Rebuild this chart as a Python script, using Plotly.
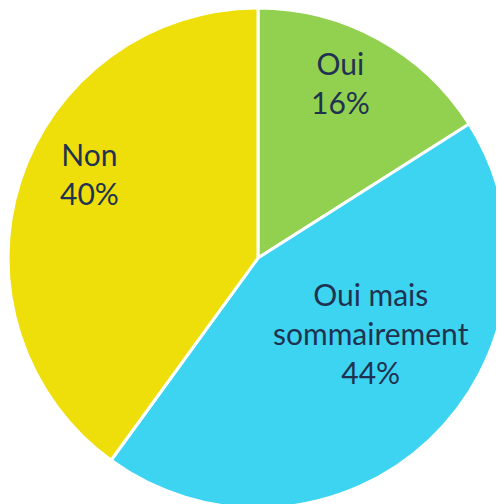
import plotly.graph_objects as go

labels = ["Oui", "Oui mais<br>sommairement", "Non"]
values = [16, 44, 40]
colors = ["#92D050", "#3DD4F2", "#EEDF0A"]

# label anchor positions (paper coordinates), one per slice
label_pos = [(0.659, 0.853), (0.720, 0.355), (0.161, 0.672)]

total = sum(values)

fig = go.Figure(go.Pie(
    labels=labels,
    values=values,
    sort=False,
    direction="clockwise",
    rotation=0,
    marker=dict(colors=colors, line=dict(color="white", width=3)),
    textinfo="none",
    showlegend=False,
    hoverinfo="skip",
    domain=dict(x=[0, 500/504], y=[4/504, 1]),
))

for lab, val, (px, py) in zip(labels, values, label_pos):
    fig.add_annotation(
        x=px, y=py, xref="paper", yref="paper",
        text=f"{lab}<br>{round(100*val/total)}%",
        showarrow=False,
        xanchor="center", yanchor="middle",
        font=dict(family="Lato, Open Sans, sans-serif", size=30, color="#1F3350"),
    )

fig.update_layout(
    width=504, height=504,
    margin=dict(l=0, r=0, t=0, b=0),
    paper_bgcolor="white",
)

fig.write_html("out.html")
